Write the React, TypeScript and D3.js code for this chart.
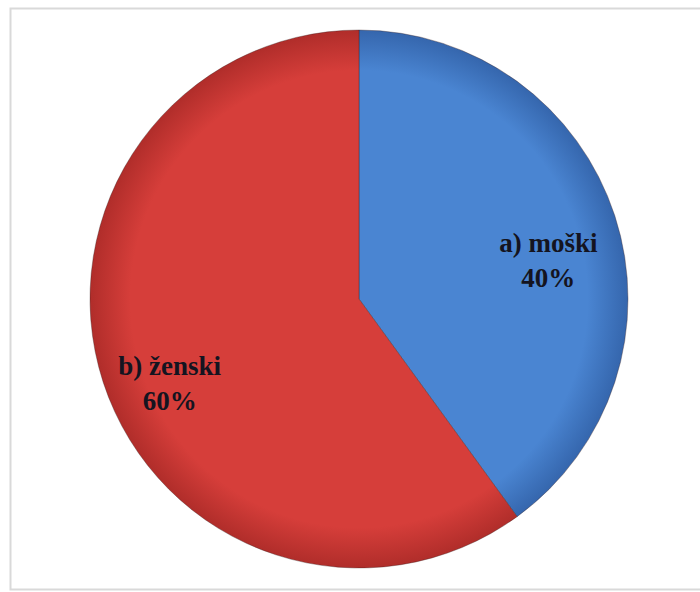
import React from "react";
import * as d3 from "d3";

const categories: string[] = ["a) moški", "b) ženski"];
const values: number[] = [40, 60];
const percentLabels: string[] = ["40%", "60%"];
const baseColors: string[] = ["#4a85d2", "#d63e3a"];
const edgeColors: string[] = ["#3566ad", "#b02d2a"];

export default function App() {
  const W = 700;
  const H = 592;
  const cx = 359;
  const cy = 299;
  const r = 269;

  const pie = d3.pie<number>().sort(null).value((d) => d);
  const arcs = pie(values);
  const arc = d3.arc<d3.PieArcDatum<number>>().innerRadius(0).outerRadius(r);
  const labelArc = d3
    .arc<d3.PieArcDatum<number>>()
    .innerRadius(r * 0.74)
    .outerRadius(r * 0.74);

  return (
    <svg
      width={W}
      height={H}
      style={{ position: "absolute", left: 0, top: 0, background: "#fff" }}
    >
      <defs>
        {baseColors.map((c, i) => (
          <radialGradient
            key={i}
            id={`g${i}`}
            gradientUnits="userSpaceOnUse"
            cx={0}
            cy={0}
            r={r}
          >
            <stop offset="0%" stopColor={c} />
            <stop offset="85%" stopColor={c} />
            <stop offset="100%" stopColor={edgeColors[i]} />
          </radialGradient>
        ))}
      </defs>
      <rect
        x={10.5}
        y={8.5}
        width={700}
        height={581}
        fill="#fff"
        stroke="#d9d9d9"
        strokeWidth={2}
      />
      <g transform={`translate(${cx},${cy})`}>
        {arcs.map((a, i) => (
          <path
            key={i}
            d={arc(a) || ""}
            fill={`url(#g${i})`}
            stroke="#3a2020"
            strokeOpacity={0.35}
            strokeWidth={1}
          />
        ))}
        {arcs.map((a, i) => {
          const [lx, ly] = labelArc.centroid(a);
          return (
            <text
              key={`t${i}`}
              x={lx}
              y={ly}
              textAnchor="middle"
              fontFamily="'Liberation Serif', 'Times New Roman', serif"
              fontWeight="bold"
              fontSize={27}
              fill="#141420"
            >
              <tspan x={lx} dy={14}>
                {categories[i]}
              </tspan>
              <tspan x={lx} dy={35}>
                {percentLabels[i]}
              </tspan>
            </text>
          );
        })}
      </g>
    </svg>
  );
}
